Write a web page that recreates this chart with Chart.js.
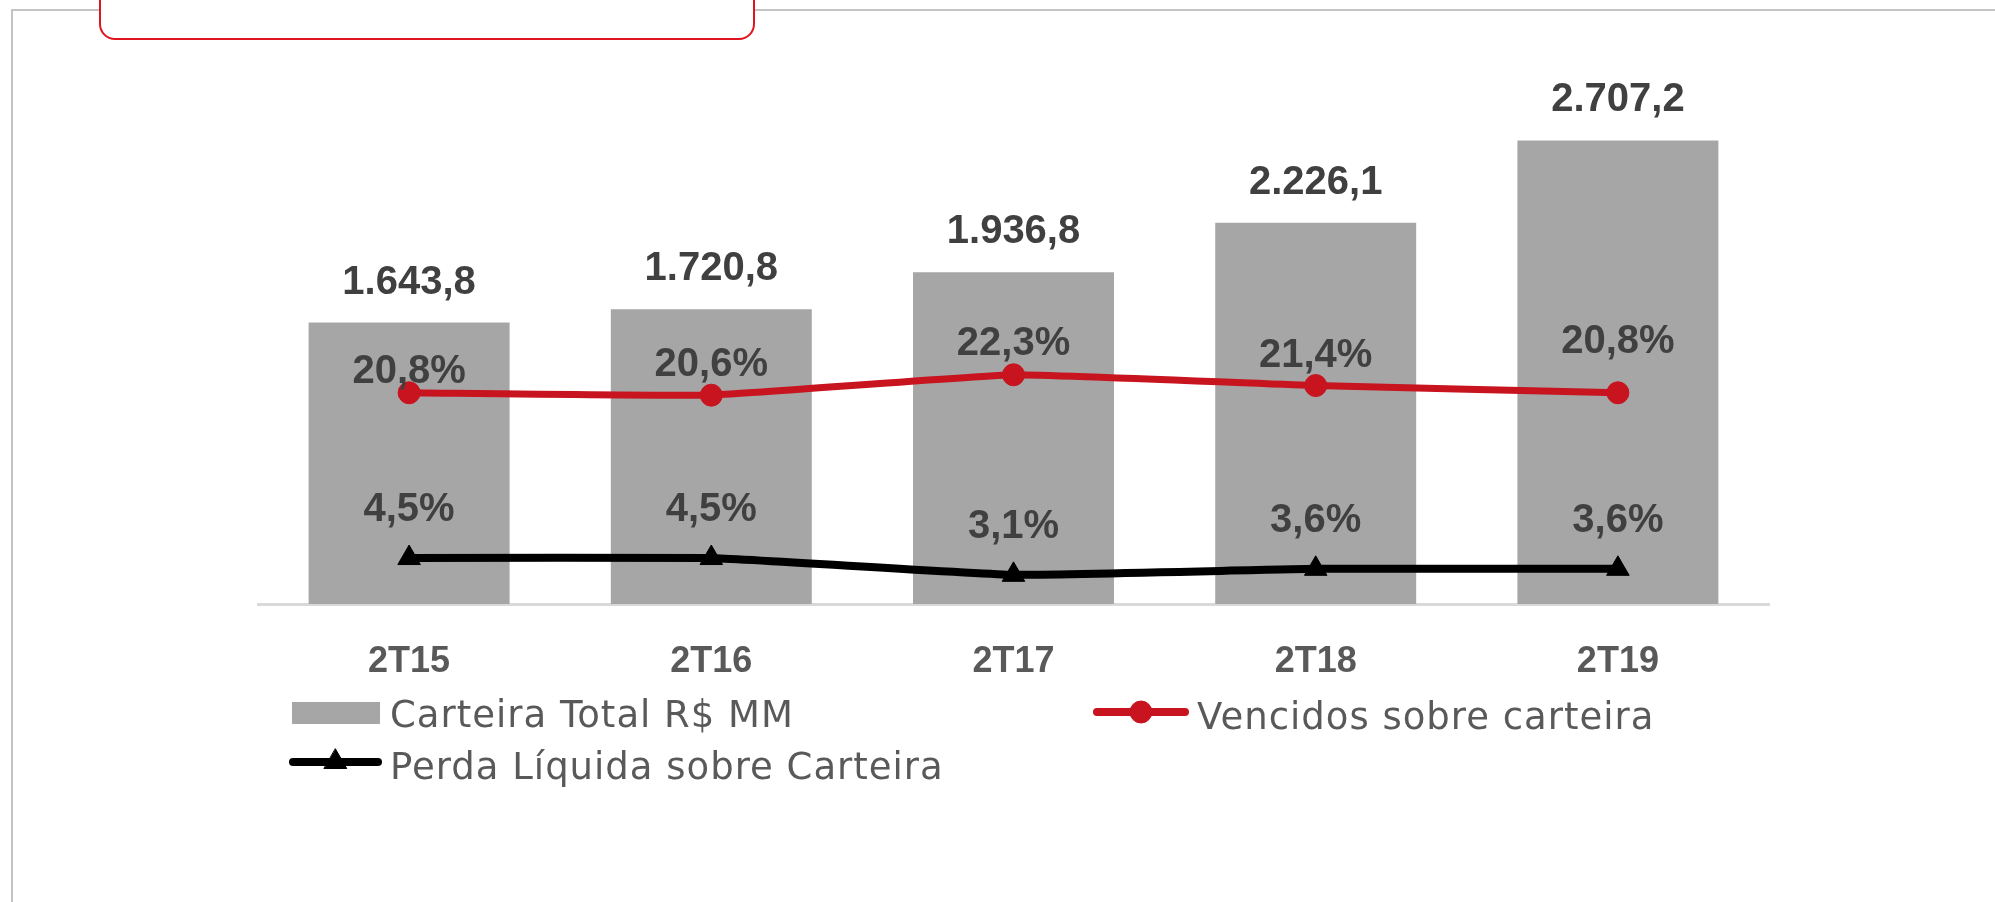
<!DOCTYPE html>
<html>
<head>
<meta charset="utf-8">
<script src="https://cdn.jsdelivr.net/npm/chart.js@4.4.1/dist/chart.umd.min.js"></script>
<style>
  html, body { margin: 0; padding: 0; background: #fff; overflow: hidden; }
  #wrap { position: relative; width: 1995px; height: 902px; }
  #frame { position: absolute; left: 11px; top: 9px; width: 2100px; height: 1000px;
           border-left: 2px solid #c4c4c4; border-top: 2px solid #c4c4c4; }
  #tab { position: absolute; left: 99px; top: -40px; width: 652px; height: 76px;
         border: 2px solid #e0141e; border-radius: 16px; background: #fff; }
  #chart { position: absolute; left: 0; top: 0; }
</style>
</head>
<body>
<div id="wrap">
  <div id="frame"></div>
  <div id="tab"></div>
  <canvas id="chart" width="1995" height="902"></canvas>
</div>
<script>
// chart data
var categories = ['2T15', '2T16', '2T17', '2T18', '2T19'];
var carteira = [1643.8, 1720.8, 1936.8, 2226.1, 2707.2];
var vencidos = [20.8, 20.6, 22.3, 21.4, 20.8];
var perda = [4.5, 4.5, 3.1, 3.6, 3.6];

// how far each red label sits above its point (the source nudged them by hand)
var vencidosLabelGap = [10, 19, 20, 19, 40];

function fmtBR(v) {
    var parts = v.toFixed(1).split('.');
    var intPart = parts[0].replace(/\B(?=(\d{3})+(?!\d))/g, '.');
    return intPart + ',' + parts[1];
}

var labelFont = 'bold 40px "Liberation Sans", Arial, sans-serif';
var labelColor = '#404040';

// value labels above the bars and points
var valueLabels = {
    id: 'valueLabels',
    afterDatasetsDraw: function (chart) {
        var ctx = chart.ctx;
        ctx.save();
        ctx.font = labelFont;
        ctx.fillStyle = labelColor;
        ctx.textAlign = 'center';
        ctx.textBaseline = 'alphabetic';
        chart.data.datasets.forEach(function (ds, di) {
            var meta = chart.getDatasetMeta(di);
            meta.data.forEach(function (el, i) {
                var v = ds.data[i];
                if (ds.type === 'bar') {
                    ctx.fillText(fmtBR(v), el.x, el.y - 29);
                } else if (di === 1) {
                    ctx.fillText(fmtBR(v) + '%', el.x, el.y - vencidosLabelGap[i]);
                } else {
                    ctx.fillText(fmtBR(v) + '%', el.x, el.y - 37);
                }
            });
        });
        ctx.restore();
    }
};

// legend laid out in columns like the source
var legendSpots = [
    { x: 292, y: 713, w: 88, textX: 390, base: 727 },
    { x: 1093, y: 712, w: 96, textX: 1197, base: 729 },
    { x: 289, y: 762, w: 93, textX: 390, base: 779 }
];

var columnLegend = {
    id: 'columnLegend',
    afterDraw: function (chart) {
        var ctx = chart.ctx;
        ctx.save();
        chart.data.datasets.forEach(function (ds, di) {
            var s = legendSpots[di];
            if (ds.type === 'bar') {
                ctx.fillStyle = ds.backgroundColor;
                ctx.fillRect(s.x, s.y - 11, s.w, 22);
            } else {
                ctx.strokeStyle = ds.borderColor;
                ctx.lineWidth = 8;
                ctx.lineCap = 'round';
                ctx.beginPath();
                ctx.moveTo(s.x + 4, s.y);
                ctx.lineTo(s.x + s.w - 4, s.y);
                ctx.stroke();
                ctx.fillStyle = ds.pointBackgroundColor;
                ctx.strokeStyle = ds.pointBorderColor;
                ctx.lineWidth = 1;
                Chart.helpers.drawPoint(ctx, {
                    pointStyle: ds.pointStyle,
                    radius: ds.pointRadius,
                    rotation: 0,
                    borderWidth: 1
                }, s.x + s.w / 2, s.y);
            }
            ctx.font = '37px "DejaVu Sans", sans-serif';
            ctx.letterSpacing = '1px';
            ctx.fillStyle = '#595959';
            ctx.textAlign = 'left';
            ctx.textBaseline = 'alphabetic';
            ctx.fillText(ds.label, s.textX, s.base);
        });
        ctx.restore();
    }
};

var ctx = document.getElementById('chart');
var chart = new Chart(ctx, {
    data: {
        labels: categories,
        datasets: [{
            type: 'bar',
            label: 'Carteira Total R$ MM',
            data: carteira,
            backgroundColor: '#a6a6a6',
            borderWidth: 0,
            barPercentage: 0.665,
            categoryPercentage: 1,
            yAxisID: 'y',
            order: 3
        }, {
            type: 'line',
            label: 'Vencidos sobre carteira',
            data: vencidos,
            borderColor: '#c8141e',
            backgroundColor: '#c8141e',
            borderWidth: 7,
            pointStyle: 'circle',
            pointRadius: 11,
            pointBackgroundColor: '#c8141e',
            pointBorderColor: '#c8141e',
            pointBorderWidth: 1,
            tension: 0.1,
            fill: false,
            yAxisID: 'yVenc',
            order: 1
        }, {
            type: 'line',
            label: 'Perda Líquida sobre Carteira',
            data: perda,
            borderColor: '#000000',
            backgroundColor: '#000000',
            borderWidth: 8,
            pointStyle: 'triangle',
            pointRadius: 13,
            pointBackgroundColor: '#000000',
            pointBorderColor: '#000000',
            pointBorderWidth: 1,
            tension: 0.1,
            fill: false,
            yAxisID: 'yPerda',
            order: 2
        }]
    },
    options: {
        responsive: false,
        animation: false,
        devicePixelRatio: 1,
        layout: {
            padding: { left: 258, right: 226, top: 60, bottom: 218 }
        },
        plugins: {
            legend: { display: false },
            tooltip: { enabled: false }
        },
        scales: {
            x: {
                type: 'category',
                offset: true,
                grid: { display: false, drawTicks: false },
                border: { display: true, color: '#d9d9d9', width: 3 },
                ticks: {
                    padding: 36,
                    color: '#595959',
                    font: { family: '"Liberation Sans", Arial, sans-serif', size: 36, weight: 'bold' }
                },
                afterFit: function (scale) { scale.height = 80; }
            },
            y: { display: false, min: 0, max: 3177 },
            yVenc: { display: false, min: 3.2, max: 48.53 },
            yPerda: { display: false, min: 0.67, max: 46.0 }
        }
    },
    plugins: [valueLabels, columnLegend]
});
</script>
</body>
</html>
